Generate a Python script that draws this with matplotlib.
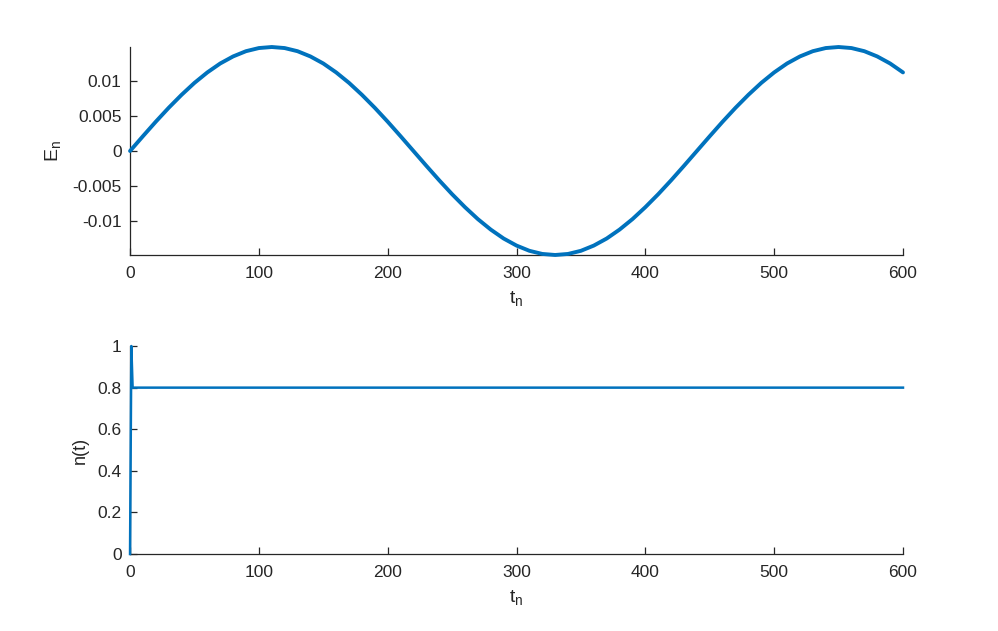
import numpy as np
import matplotlib
matplotlib.use("Agg")
import matplotlib.pyplot as plt

t_energy = np.arange(0, 601, 10)
energy = [
    0.0, 0.00212, 0.00420, 0.00619, 0.00805, 0.00976, 0.01126, 0.01254,
    0.01355, 0.01430, 0.01475, 0.01490, 0.01475, 0.01430, 0.01355, 0.01254,
    0.01126, 0.00976, 0.00805, 0.00619, 0.00420, 0.00212, 0.0, -0.00212,
    -0.00420, -0.00619, -0.00805, -0.00976, -0.01126, -0.01254, -0.01355,
    -0.01430, -0.01475, -0.01490, -0.01475, -0.01430, -0.01355, -0.01254,
    -0.01126, -0.00976, -0.00805, -0.00619, -0.00420, -0.00212, 0.0,
    0.00212, 0.00420, 0.00619, 0.00805, 0.00976, 0.01126, 0.01254, 0.01355,
    0.01430, 0.01475, 0.01490, 0.01475, 0.01430, 0.01355, 0.01254, 0.01126,
]

# n(t): скачок в начале, затем постоянное значение
t_n = [0, 1, 2, 600]
n_values = [0.0, 1.0, 0.8, 0.8]

x_ticks = [0, 100, 200, 300, 400, 500, 600]
e_ticks = [-0.01, -0.005, 0, 0.005, 0.01]
e_tick_labels = ['-0.01', '-0.005', '0', '0.005', '0.01']
n_ticks = [0, 0.2, 0.4, 0.6, 0.8, 1]
n_tick_labels = ['0', '0.2', '0.4', '0.6', '0.8', '1']

BLUE = '#0072BD'
DARK = '#262626'

plt.rcParams['font.family'] = ['Liberation Sans', 'DejaVu Sans']
plt.rcParams['mathtext.default'] = 'regular'
plt.rcParams['text.color'] = DARK
plt.rcParams['axes.labelcolor'] = DARK
plt.rcParams['xtick.color'] = DARK
plt.rcParams['ytick.color'] = DARK


def style_axes(ax):
    """Оформление осей в духе MATLAB: без рамки, засечки внутрь."""
    for side in ('top', 'right'):
        ax.spines[side].set_visible(False)
    for side in ('left', 'bottom'):
        ax.spines[side].set_color(DARK)
        ax.spines[side].set_linewidth(0.9)
    ax.tick_params(direction='in', length=5, width=0.9, labelsize=12.5)
    ax.tick_params(axis='x', pad=8)
    ax.tick_params(axis='y', pad=6)


fig = plt.figure(figsize=(9.98, 6.31), dpi=100)
ax1 = fig.add_axes([0.1303, 0.5959, 0.7745, 0.3296])
ax2 = fig.add_axes([0.1303, 0.1220, 0.7745, 0.3296])

ax1.plot(t_energy, energy, color=BLUE, linewidth=2.8, clip_on=False,
         solid_capstyle='round', zorder=3)
ax1.set_xlim(0, 600)
ax1.set_ylim(-0.0149, 0.0149)
ax1.set_xticks(x_ticks)
ax1.set_yticks(e_ticks)
ax1.set_yticklabels(e_tick_labels)
ax1.set_xlabel('$t_n$', fontsize=14, labelpad=6)
ax1.set_ylabel('$E_n$', fontsize=14, labelpad=7)
style_axes(ax1)

ax2.plot(t_n, n_values, color=BLUE, linewidth=1.8, clip_on=False, zorder=3)
ax2.set_xlim(0, 600)
ax2.set_ylim(0, 1)
ax2.set_xticks(x_ticks)
ax2.set_yticks(n_ticks)
ax2.set_yticklabels(n_tick_labels)
ax2.set_xlabel('$t_n$', fontsize=14, labelpad=6)
ax2.set_ylabel('n(t)', fontsize=13, labelpad=6)
style_axes(ax2)

fig.savefig('out.png', dpi=100)
